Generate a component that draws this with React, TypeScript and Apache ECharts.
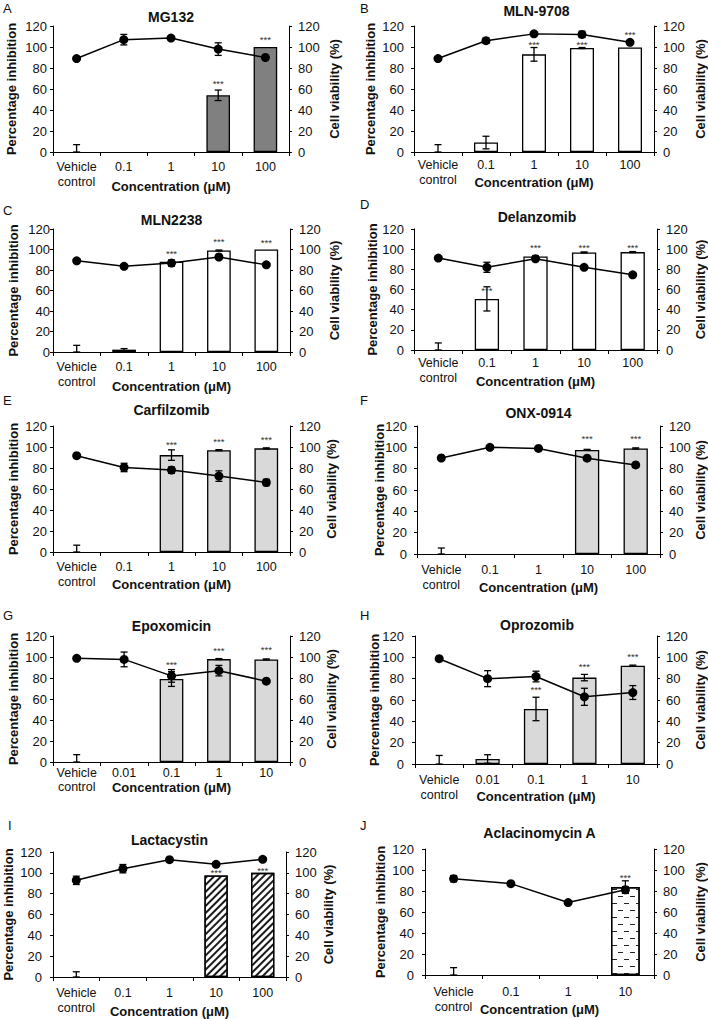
import React, { useEffect, useRef } from 'react';
import * as echarts from 'echarts';

const FONT = '"Liberation Sans", Arial, Helvetica, sans-serif';

// ---- categories / tick labels ----
const concA = ['Vehicle\ncontrol', '0.1', '1', '10', '100'];
const concLow = ['Vehicle\ncontrol', '0.01', '0.1', '1', '10'];
const concJ = ['Vehicle\ncontrol', '0.1', '1', '10'];
const yMin = 0;
const yMax = 120;
const yStep = 20;

// ---- A: MG132 ----
const mg132Inhib = [0, 0, 0, 54, 100];
const mg132InhibErr = [7, 0, 0, 5, 0];
const mg132Viab = [89, 107, 108.5, 98, 90];
const mg132ViabErr = [0, 5, 1.5, 6, 0];
const mg132Stars = [null, null, null, 67, 109];

// ---- B: MLN-9708 ----
const mln9708Inhib = [0, 9, 93, 99, 99.5];
const mln9708InhibErr = [7, 6, 6.5, 0.5, 0];
const mln9708Viab = [89, 106, 112.5, 112, 104.5];
const mln9708ViabErr = [0, 2.5, 1, 3, 0];
const mln9708Stars = [null, null, 104, 104, 114];

// ---- C: MLN2238 ----
const mln2238Inhib = [0, 2.3, 88, 99, 100];
const mln2238InhibErr = [6.5, 1, 1, 0.5, 0];
const mln2238Viab = [89, 83.6, 86.8, 92.7, 85];
const mln2238ViabErr = [0, 1.5, 3, 1, 0];
const mln2238Stars = [null, null, 98, 110, 109];

// ---- D: Delanzomib ----
const delanInhib = [0, 50.7, 92.8, 96.8, 97.1];
const delanInhibErr = [7, 12, 0.5, 0.5, 0.5];
const delanViab = [91.2, 82, 90.5, 82, 74.6];
const delanViabErr = [0, 5, 1, 0, 0];
const delanStars = [null, 61, 104, 104, 104];

// ---- E: Carfilzomib ----
const carfInhib = [0, 0, 92.3, 97, 98.7];
const carfInhibErr = [6.5, 0, 5, 0.5, 0.5];
const carfViab = [91.7, 80.5, 78, 72.3, 66.2];
const carfViabErr = [0, 4, 3, 5, 3];
const carfStars = [null, null, 104, 107, 109];

// ---- F: ONX-0914 ----
const onxInhib = [0, 0, 0, 97.6, 99];
const onxInhibErr = [5.6, 0, 0, 0.5, 0.5];
const onxViab = [90, 100, 99, 89.8, 83.5];
const onxViabErr = [0, 1.5, 0, 0, 0];
const onxStars = [null, null, null, 110, 110];

// ---- G: Epoxomicin ----
const epoxInhib = [0, 0, 79, 98, 97.7];
const epoxInhibErr = [7, 0, 7, 0.5, 0.5];
const epoxViab = [98.7, 97.7, 82, 87, 77];
const epoxViabErr = [0, 7, 6, 5, 1.5];
const epoxStars = [null, null, 95, 108, 109];

// ---- H: Oprozomib ----
const oproInhib = [0, 4.7, 51.6, 81, 92.2];
const oproInhibErr = [8, 4, 11, 3, 0.5];
const oproViab = [98.7, 80, 82, 63, 67];
const oproViabErr = [0, 7.5, 5, 8, 6.5];
const oproStars = [null, null, 71.5, 93, 103];

// ---- I: Lactacystin ----
const lactaInhib = [0, 0, 0, 97.5, 100];
const lactaInhibErr = [5, 0, 0, 0, 0];
const lactaViab = [92.8, 104, 112.6, 108.2, 113];
const lactaViabErr = [4, 4, 1, 1, 1];
const lactaStars = [null, null, null, 102, 104];

// ---- J: Aclacinomycin A ----
const aclaInhib = [0, 0, 0, 83.7];
const aclaInhibErr = [7, 0, 0, 6];
const aclaViab = [91.7, 87, 69, 81.2];
const aclaViabErr = [3, 1.5, 1.5, 3];
const aclaStars = [null, null, null, 95];

const panels = [
  { letter: 'A', title: 'MG132', cats: concA, inhib: mg132Inhib, inhibErr: mg132InhibErr, viab: mg132Viab, viabErr: mg132ViabErr, stars: mg132Stars, fill: 'dark' },
  { letter: 'B', title: 'MLN-9708', cats: concA, inhib: mln9708Inhib, inhibErr: mln9708InhibErr, viab: mln9708Viab, viabErr: mln9708ViabErr, stars: mln9708Stars, fill: 'white' },
  { letter: 'C', title: 'MLN2238', cats: concA, inhib: mln2238Inhib, inhibErr: mln2238InhibErr, viab: mln2238Viab, viabErr: mln2238ViabErr, stars: mln2238Stars, fill: 'white' },
  { letter: 'D', title: 'Delanzomib', cats: concA, inhib: delanInhib, inhibErr: delanInhibErr, viab: delanViab, viabErr: delanViabErr, stars: delanStars, fill: 'white' },
  { letter: 'E', title: 'Carfilzomib', cats: concA, inhib: carfInhib, inhibErr: carfInhibErr, viab: carfViab, viabErr: carfViabErr, stars: carfStars, fill: 'light' },
  { letter: 'F', title: 'ONX-0914', cats: concA, inhib: onxInhib, inhibErr: onxInhibErr, viab: onxViab, viabErr: onxViabErr, stars: onxStars, fill: 'light' },
  { letter: 'G', title: 'Epoxomicin', cats: concLow, inhib: epoxInhib, inhibErr: epoxInhibErr, viab: epoxViab, viabErr: epoxViabErr, stars: epoxStars, fill: 'light' },
  { letter: 'H', title: 'Oprozomib', cats: concLow, inhib: oproInhib, inhibErr: oproInhibErr, viab: oproViab, viabErr: oproViabErr, stars: oproStars, fill: 'light' },
  { letter: 'I', title: 'Lactacystin', cats: concA, inhib: lactaInhib, inhibErr: lactaInhibErr, viab: lactaViab, viabErr: lactaViabErr, stars: lactaStars, fill: 'hatch' },
  { letter: 'J', title: 'Aclacinomycin A', cats: concJ, inhib: aclaInhib, inhibErr: aclaInhibErr, viab: aclaViab, viabErr: aclaViabErr, stars: aclaStars, fill: 'dash' },
];

// layout (pixel positions)
const layouts = [
  { lx: 3, ly: 8, ty: 17, left: 53, top: 26, width: 236, height: 126, ym: 6, yg: 35, rg: 39, xm: 7, xg: 28, lh: 15 },
  { lx: 360, ly: 8, ty: 11, left: 414, top: 26, width: 245, height: 126, ym: 10, yg: 37, rg: 40, xm: 5, xg: 24, lh: 15 },
  { lx: 3, ly: 210, ty: 220, left: 53, top: 229, width: 237, height: 123, ym: 3, yg: 33, rg: 38, xm: 7, xg: 28, lh: 15 },
  { lx: 360, ly: 204, ty: 217, left: 414, top: 229, width: 246, height: 121, ym: 10, yg: 35, rg: 37, xm: 5, xg: 25, lh: 15 },
  { lx: 3, ly: 400, ty: 410, left: 53, top: 426, width: 237, height: 126, ym: 6, yg: 33, rg: 35, xm: 7, xg: 26, lh: 15 },
  { lx: 360, ly: 400, ty: 413, left: 417, top: 426, width: 243, height: 128, ym: 10, yg: 31, rg: 34, xm: 8, xg: 27, lh: 15 },
  { lx: 3, ly: 615, ty: 626, left: 53, top: 636, width: 237, height: 126, ym: 6, yg: 33, rg: 35, xm: 4, xg: 19, lh: 14 },
  { lx: 360, ly: 615, ty: 625, left: 415, top: 636, width: 244, height: 128, ym: 11, yg: 34, rg: 37, xm: 8, xg: 26, lh: 15 },
  { lx: 8, ly: 825, ty: 840, left: 53, top: 852, width: 233, height: 125, ym: 11, yg: 38, rg: 36, xm: 8, xg: 28, lh: 15 },
  { lx: 360, ly: 825, ty: 833, left: 425, top: 849, width: 229, height: 126, ym: 11, yg: 38, rg: 40, xm: 9, xg: 28, lh: 15 },
];

const fillStyle = (kind: string): any => {
  const base = { borderColor: '#000', borderWidth: 1.3 };
  if (kind === 'dark') return { ...base, color: '#808080' };
  if (kind === 'light') return { ...base, color: '#d9d9d9' };
  if (kind === 'hatch')
    return {
      ...base,
      color: '#ffffff',
      decal: { symbol: 'rect', symbolSize: 1, color: '#1a1a1a', dashArrayX: [1, 0], dashArrayY: [2, 3], rotation: -Math.PI / 4 },
    };
  if (kind === 'dash')
    return {
      ...base,
      color: '#ffffff',
      decal: { symbol: 'rect', symbolSize: 1, color: '#222', dashArrayX: [[5, 7], [0, 6, 5, 1]], dashArrayY: [1, 6], rotation: 0 },
    };
  return { ...base, color: '#ffffff' };
};

const errRender = (params: any, api: any) => {
  const x = api.value(0);
  const lo = api.value(1);
  const hi = api.value(2);
  const a = api.coord([x, lo]);
  const b = api.coord([x, hi]);
  const hw = 3.5;
  const st = { stroke: '#000', lineWidth: 1.3 };
  return {
    type: 'group',
    children: [
      { type: 'line', shape: { x1: a[0], y1: a[1], x2: b[0], y2: b[1] }, style: st },
      { type: 'line', shape: { x1: a[0] - hw, y1: a[1], x2: a[0] + hw, y2: a[1] }, style: st },
      { type: 'line', shape: { x1: b[0] - hw, y1: b[1], x2: b[0] + hw, y2: b[1] }, style: st },
    ],
  };
};

const starRender = (params: any, api: any) => {
  const p = api.coord([api.value(0), api.value(1)]);
  return {
    type: 'text',
    x: p[0],
    y: p[1] + 2,
    style: { text: '***', fontSize: 9.5, fill: '#333', align: 'center', verticalAlign: 'middle', fontFamily: FONT },
  };
};

const errData = (vals: number[], errs: number[]) =>
  vals
    .map((v, k) => (errs[k] > 0 ? [k, Math.max(0, v - errs[k]), v + errs[k]] : null))
    .filter((d) => d !== null);

function buildOption() {
  const grid: any[] = [];
  const xAxis: any[] = [];
  const yAxis: any[] = [];
  const series: any[] = [];
  const graphic: any[] = [];
  const txt = { color: '#111', fontFamily: FONT };

  panels.forEach((p, i) => {
    const L = layouts[i];
    grid.push({ left: L.left, top: L.top, width: L.width, height: L.height });
    xAxis.push({
      type: 'category',
      gridIndex: i,
      data: p.cats,
      boundaryGap: true,
      axisLine: { lineStyle: { color: '#000', width: 1 } },
      axisTick: { show: true, length: 4, interval: 0, alignWithLabel: false, lineStyle: { color: '#000' } },
      axisLabel: { interval: 0, margin: L.xm, fontSize: 12.5, lineHeight: L.lh, ...txt },
      name: 'Concentration (μM)',
      nameLocation: 'middle',
      nameGap: L.xg,
      nameMoveOverlap: false,
      nameTextStyle: { fontWeight: 'bold', fontSize: 13, ...txt },
    });
    const yCommon = {
      type: 'value',
      gridIndex: i,
      min: yMin,
      max: yMax,
      interval: yStep,
      splitLine: { show: false },
      axisLine: { show: true, lineStyle: { color: '#000', width: 1 } },
      axisTick: { show: true, length: 3, lineStyle: { color: '#000' } },
      nameLocation: 'middle',
      nameRotate: 90,
      nameMoveOverlap: false,
      nameTextStyle: { fontWeight: 'bold', fontSize: 13, ...txt },
    };
    yAxis.push({
      ...yCommon,
      position: 'left',
      name: 'Percentage inhibition',
      nameGap: L.yg,
      axisLabel: { margin: L.ym, fontSize: 13, ...txt },
    });
    yAxis.push({
      ...yCommon,
      position: 'right',
      name: 'Cell viability (%)',
      nameGap: L.rg,
      axisLabel: { margin: 9, fontSize: 13, ...txt },
    });

    series.push({
      type: 'bar',
      xAxisIndex: i,
      yAxisIndex: 2 * i,
      data: p.inhib.map((v) => (v === 0 ? '-' : v)),
      barWidth: '50%',
      itemStyle: fillStyle(p.fill),
      z: 2,
    });
    series.push({
      type: 'custom',
      xAxisIndex: i,
      yAxisIndex: 2 * i,
      data: errData(p.inhib, p.inhibErr),
      encode: { x: 0, y: [1, 2] },
      renderItem: errRender,
      z: 3,
    });
    series.push({
      type: 'line',
      xAxisIndex: i,
      yAxisIndex: 2 * i + 1,
      data: p.viab,
      symbol: 'circle',
      symbolSize: 9,
      itemStyle: { color: '#000' },
      lineStyle: { color: '#000', width: 1.5 },
      z: 4,
    });
    series.push({
      type: 'custom',
      xAxisIndex: i,
      yAxisIndex: 2 * i + 1,
      data: errData(p.viab, p.viabErr),
      encode: { x: 0, y: [1, 2] },
      renderItem: errRender,
      z: 5,
    });
    series.push({
      type: 'custom',
      xAxisIndex: i,
      yAxisIndex: 2 * i,
      data: p.stars.map((v, k) => (v == null ? null : [k, v])).filter((d) => d !== null),
      encode: { x: 0, y: 1 },
      renderItem: starRender,
      z: 6,
    });

    graphic.push({
      type: 'text',
      x: L.lx,
      y: L.ly,
      style: { text: p.letter, fontSize: 13, fontFamily: FONT, fill: '#111', align: 'left', verticalAlign: 'middle' },
    });
    graphic.push({
      type: 'text',
      x: L.left + L.width / 2,
      y: L.ty,
      style: { text: p.title, fontSize: 14, fontWeight: 'bold', fontFamily: FONT, fill: '#111', align: 'center', verticalAlign: 'middle' },
    });
  });

  return { animation: false, backgroundColor: '#ffffff', grid, xAxis, yAxis, series, graphic };
}

export default function App() {
  const ref = useRef<HTMLDivElement>(null);
  useEffect(() => {
    if (!ref.current) return;
    const chart = echarts.init(ref.current, undefined, { renderer: 'svg' });
    chart.setOption(buildOption() as any);
    return () => chart.dispose();
  }, []);
  return <div ref={ref} style={{ position: 'absolute', left: 0, top: 0, width: 708, height: 1019 }} />;
}
